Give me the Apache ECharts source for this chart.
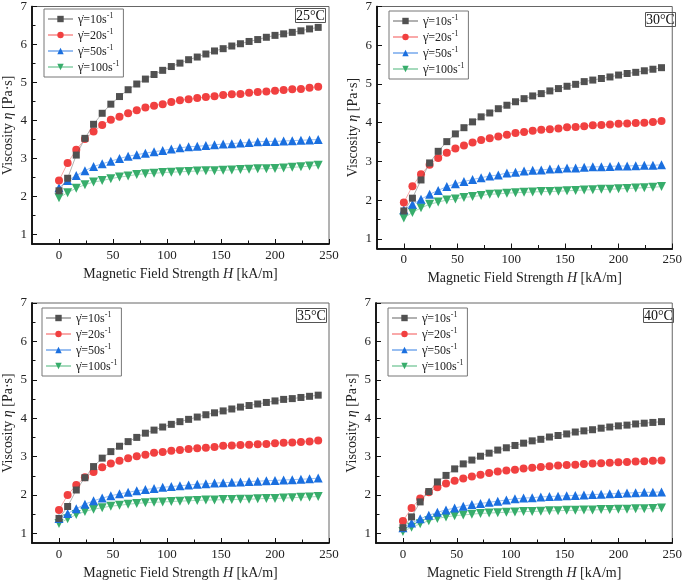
<!DOCTYPE html>
<html><head><meta charset="utf-8">
<script src="https://cdn.jsdelivr.net/npm/echarts@6/dist/echarts.min.js"></script>
<style>html,body{margin:0;padding:0;background:#fff}#c{width:685px;height:581px}</style>
</head><body><div id="c"></div>
<script>
const H = [0,8,16,24,32,40,48,56,64,72,80,88,96,104,112,120,128,136,144,152,160,168,176,184,192,200,208,216,224,232,240];
const seriesNames = ['γ̇=10s⁻¹','γ̇=20s⁻¹','γ̇=50s⁻¹','γ̇=100s⁻¹'];
const panelLabels = ['25°C','30°C','35°C','40°C'];
const xTicks = [0,50,100,150,200,250];
const xMinorTicks = [25,75,125,175,225];
const yTicks = [1,2,3,4,5,6,7];
const yMinorTicks = [1.5,2.5,3.5,4.5,5.5,6.5];

// 25°C
const t25_10 = [2.15,2.48,3.09,3.53,3.90,4.19,4.43,4.63,4.81,4.96,5.09,5.21,5.32,5.42,5.51,5.60,5.67,5.75,5.83,5.89,5.96,6.02,6.08,6.13,6.19,6.24,6.28,6.32,6.36,6.41,6.45];
const t25_20 = [2.42,2.88,3.23,3.51,3.71,3.88,4.02,4.10,4.19,4.27,4.34,4.39,4.43,4.49,4.53,4.56,4.59,4.62,4.64,4.67,4.69,4.70,4.73,4.75,4.76,4.78,4.80,4.82,4.83,4.86,4.89];
const t25_50 = [2.23,2.42,2.55,2.68,2.79,2.86,2.93,3.00,3.06,3.10,3.14,3.18,3.21,3.25,3.28,3.31,3.32,3.34,3.36,3.38,3.39,3.41,3.42,3.44,3.45,3.45,3.46,3.47,3.48,3.49,3.50];
const t25_100 = [1.97,2.10,2.22,2.31,2.38,2.42,2.47,2.51,2.54,2.58,2.60,2.61,2.63,2.64,2.65,2.66,2.67,2.68,2.68,2.69,2.70,2.71,2.72,2.73,2.73,2.74,2.75,2.77,2.78,2.80,2.82];
// 30°C
const t30_10 = [1.72,2.05,2.52,2.96,3.26,3.51,3.71,3.87,4.02,4.15,4.25,4.36,4.45,4.54,4.62,4.69,4.75,4.82,4.88,4.94,4.99,5.06,5.10,5.14,5.18,5.23,5.27,5.30,5.34,5.38,5.42];
const t30_20 = [1.94,2.36,2.67,2.91,3.09,3.22,3.33,3.41,3.49,3.55,3.60,3.64,3.69,3.73,3.76,3.79,3.82,3.83,3.85,3.88,3.89,3.91,3.93,3.94,3.95,3.97,3.98,3.99,4.00,4.02,4.04];
const t30_50 = [1.75,1.89,2.02,2.15,2.25,2.35,2.42,2.48,2.53,2.58,2.62,2.65,2.70,2.72,2.75,2.77,2.78,2.80,2.81,2.83,2.83,2.85,2.86,2.86,2.87,2.88,2.88,2.89,2.90,2.90,2.91];
const t30_100 = [1.54,1.68,1.80,1.89,1.95,2.00,2.03,2.07,2.09,2.12,2.15,2.16,2.18,2.19,2.20,2.21,2.22,2.22,2.23,2.24,2.25,2.26,2.27,2.28,2.28,2.29,2.30,2.31,2.32,2.33,2.35];
// 35°C
const t35_10 = [1.39,1.70,2.13,2.45,2.74,2.96,3.13,3.27,3.39,3.50,3.61,3.69,3.77,3.84,3.91,3.97,4.03,4.09,4.14,4.19,4.24,4.29,4.33,4.37,4.41,4.45,4.49,4.51,4.54,4.57,4.60];
const t35_20 = [1.61,2.00,2.26,2.46,2.60,2.72,2.82,2.89,2.96,3.01,3.05,3.10,3.12,3.15,3.17,3.20,3.22,3.23,3.25,3.28,3.29,3.30,3.31,3.32,3.33,3.35,3.36,3.37,3.38,3.39,3.42];
const t35_50 = [1.39,1.52,1.64,1.76,1.85,1.92,1.98,2.03,2.07,2.11,2.14,2.17,2.20,2.22,2.24,2.26,2.28,2.29,2.31,2.32,2.33,2.34,2.35,2.36,2.37,2.38,2.39,2.40,2.41,2.42,2.44];
const t35_100 = [1.26,1.38,1.49,1.57,1.63,1.67,1.71,1.73,1.76,1.78,1.80,1.81,1.82,1.83,1.84,1.85,1.86,1.87,1.87,1.88,1.88,1.89,1.89,1.90,1.91,1.91,1.92,1.93,1.94,1.95,1.96];
// 40°C
const t40_10 = [1.15,1.43,1.82,2.09,2.34,2.51,2.68,2.81,2.91,3.01,3.09,3.17,3.23,3.29,3.35,3.41,3.45,3.51,3.55,3.59,3.64,3.67,3.70,3.74,3.77,3.80,3.82,3.85,3.87,3.89,3.91];
const t40_20 = [1.32,1.66,1.91,2.07,2.20,2.30,2.37,2.43,2.48,2.53,2.57,2.61,2.64,2.66,2.69,2.71,2.73,2.75,2.77,2.78,2.79,2.81,2.82,2.83,2.84,2.85,2.86,2.87,2.88,2.89,2.90];
const t40_50 = [1.15,1.27,1.38,1.47,1.55,1.61,1.66,1.71,1.75,1.78,1.81,1.84,1.87,1.90,1.92,1.93,1.95,1.96,1.97,1.98,1.99,2.00,2.01,2.02,2.03,2.04,2.05,2.06,2.07,2.07,2.08];
const t40_100 = [1.05,1.16,1.25,1.33,1.39,1.43,1.46,1.48,1.50,1.52,1.53,1.54,1.55,1.56,1.57,1.57,1.58,1.59,1.59,1.60,1.60,1.61,1.61,1.62,1.62,1.63,1.63,1.64,1.64,1.65,1.66];

const panels = [
  [t25_10,t25_20,t25_50,t25_100],
  [t30_10,t30_20,t30_50,t30_100],
  [t35_10,t35_20,t35_50,t35_100],
  [t40_10,t40_20,t40_50,t40_100]
];

const FONT = 'Liberation Serif';
const colors = ['#515151','#F14040','#1A6FDF','#37AD6B'];
const symbols = ['rect','circle','triangle','triangle'];
const symbolSizes = [7,8,9,9];
const symbolRotates = [0,0,0,180];

const grids = [
  {left:30.5, top:4, width:298.5, height:240},
  {left:377, top:5.5, width:300.5, height:243},
  {left:30.5, top:303, width:298.5, height:240},
  {left:376, top:303, width:301.5, height:241}
];
const legendPos = [
  {left:44, top:9},
  {left:389, top:11},
  {left:42, top:308},
  {left:388, top:308}
];
const labelPos = [
  {left:295, top:8},
  {left:645, top:12},
  {left:296, top:308},
  {left:643, top:308}
];

const xAxes = [], yAxes = [], series = [], legends = [], titles = [];
grids.forEach((g, i) => {
  g.show = true; g.borderColor = '#666'; g.borderWidth = 1;
  xAxes.push({
    gridIndex:i, type:'value', min:-25, max:250,
    name:'{n|Magnetic Field Strength }{i|H}{n| [kA/m]}', nameLocation:'middle', nameGap:23,
    nameTextStyle:{rich:{n:{fontFamily:FONT,fontSize:14,color:'#222'},i:{fontFamily:FONT,fontSize:14,fontStyle:'italic',color:'#222'}}},
    axisLine:{onZero:false, lineStyle:{color:'#111', width:1.5}},
    axisTick:{inside:true, length:5, customValues:xTicks, lineStyle:{color:'#111'}},
    axisLabel:{customValues:xTicks, margin:5, fontFamily:FONT, fontSize:13, color:'#222'},
    splitLine:{show:false}
  });
  xAxes.push({
    gridIndex:i, type:'value', min:-25, max:250, position:'bottom', offset:0,
    axisLine:{show:true, onZero:false, lineStyle:{color:'#111', width:1.5}},
    axisTick:{show:true, inside:true, length:3.5, customValues:xMinorTicks, lineStyle:{color:'#111', width:1}},
    axisLabel:{show:true, customValues:xMinorTicks, formatter:() => ''}, splitLine:{show:false}
  });
  yAxes.push({
    gridIndex:i, type:'value', min:0.75, max:7,
    name:'{n|Viscosity }{i|η}{n| [Pa·s]}', nameLocation:'middle', nameGap:17,
    nameTextStyle:{rich:{n:{fontFamily:FONT,fontSize:14,color:'#222'},i:{fontFamily:FONT,fontSize:14,fontStyle:'italic',color:'#222'}}},
    axisLine:{show:true, onZero:false, lineStyle:{color:'#111', width:1.5}},
    axisTick:{show:true, inside:true, length:5, customValues:yTicks, lineStyle:{color:'#111'}},
    axisLabel:{customValues:yTicks, margin:5, fontFamily:FONT, fontSize:13, color:'#222'},
    splitLine:{show:false}
  });
  yAxes.push({
    gridIndex:i, type:'value', min:0.75, max:7, position:'left', offset:0,
    axisLine:{show:true, onZero:false, lineStyle:{color:'#111', width:1.5}},
    axisTick:{show:true, inside:true, length:3.5, customValues:yMinorTicks, lineStyle:{color:'#111', width:1}},
    axisLabel:{show:true, customValues:yMinorTicks, formatter:() => ''}, splitLine:{show:false}
  });
  panels[i].forEach((vals, k) => {
    series.push({
      type:'line', name:seriesNames[k], xAxisIndex:2*i, yAxisIndex:2*i,
      data:H.map((h, j) => [h, vals[j]]),
      symbol:symbols[k], symbolSize:symbolSizes[k], symbolRotate:symbolRotates[k],
      itemStyle:{color:colors[k]},
      lineStyle:{color:colors[k], opacity:0.45, width:1},
      z:10-k, animation:false
    });
  });
  legends.push({
    orient:'vertical', left:legendPos[i].left, top:legendPos[i].top,
    data:seriesNames, itemWidth:25, itemHeight:8, itemGap:2,
    padding:[3,4,3,3], borderColor:'#777', borderWidth:1,
    formatter: name => '{b|' + name.replace('⁻¹','') + '}{s|-1}',
    textStyle:{fontFamily:FONT, fontSize:12, color:'#222',
      rich:{
        b:{fontFamily:FONT, fontSize:12, color:'#222', lineHeight:14, verticalAlign:'bottom'},
        s:{fontFamily:FONT, fontSize:8, color:'#222', lineHeight:14, verticalAlign:'top'}
      }},
    selectedMode:false
  });
  titles.push({
    text:panelLabels[i], left:labelPos[i].left, top:labelPos[i].top,
    padding:[1,1,0,1], borderColor:'#555', borderWidth:1,
    textStyle:{fontFamily:FONT, fontSize:14, fontWeight:'normal', color:'#111'}
  });
});

const chart = echarts.init(document.getElementById('c'));
chart.setOption({
  animation:false,
  backgroundColor:'#fff',
  title:titles, legend:legends, grid:grids, xAxis:xAxes, yAxis:yAxes, series:series
});
</script></body></html>
